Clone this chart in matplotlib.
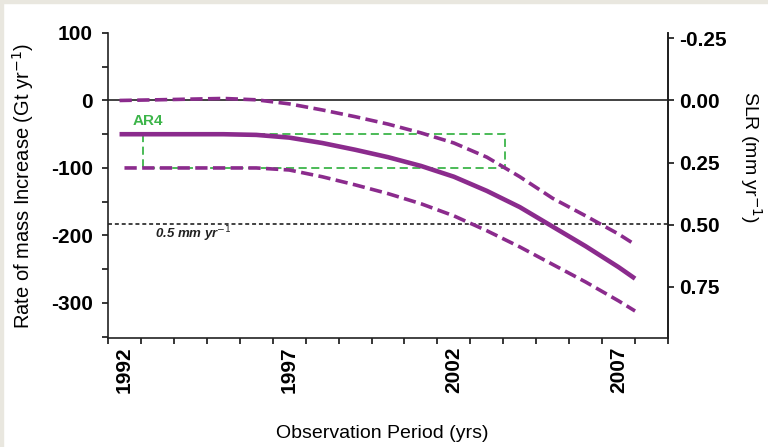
import matplotlib
matplotlib.use('Agg')
import matplotlib.pyplot as plt
from matplotlib.patches import Rectangle
from matplotlib.ticker import FixedLocator, FormatStrFormatter
import numpy as np

plt.rcParams['font.family'] = ['Liberation Sans', 'DejaVu Sans']
plt.rcParams['axes.unicode_minus'] = False

# --- data (Gt/yr) ---
mid_years = [1991.85, 1993, 1994, 1995, 1996, 1997, 1998, 1999, 2000, 2001, 2002,
             2003, 2004, 2005, 2006, 2007, 2007.5]
mid_rate = [-50, -50, -50, -50, -51, -55, -63, -73, -84, -97, -113,
            -134, -158, -187, -216, -247, -264]

upper_years = [1991.85, 1993, 1994, 1995, 1996, 1997, 1998, 1999, 2000, 2001, 2002,
               2003, 2004, 2005, 2006, 2007, 2007.45]
upper_rate = [0, 1, 2, 3, 1, -5, -14, -24, -35, -48, -63,
              -84, -113, -145, -171, -198, -212]

lower_years = [1992.0, 1993, 1994, 1995, 1996, 1997, 1998, 1999, 2000, 2001, 2002,
               2003, 2004, 2005, 2006, 2007, 2007.5]
lower_rate = [-100, -100, -100, -100, -100, -103, -113, -125, -138, -153, -171,
              -193, -217, -243, -269, -297, -312]

ar4_box = (1992.55, 2003.55, -100, -50)   # x0, x1, y0, y1
slr_line = -183                            # 0.5 mm/yr
gt_per_mm = 368.0

year_labels = [1992, 1997, 2002, 2007]
left_ticks = [100, 0, -100, -200, -300]
right_ticks = [-0.25, 0.0, 0.25, 0.5, 0.75]

purple = '#8B2B8D'
green = '#3DB54A'

fig = plt.figure(figsize=(7.68, 4.47), dpi=100)
fig.patch.set_facecolor('white')
# light beige strips at the top and left edge
fig.patches.append(Rectangle((0, 1 - 3 / 447), 1, 3 / 447, transform=fig.transFigure,
                             color='#E9E7DF', zorder=0))
fig.patches.append(Rectangle((0, 0), 3 / 768, 1, transform=fig.transFigure,
                             color='#E9E7DF', zorder=0))

ax = fig.add_axes([108 / 768, 1 - 338 / 447, 560 / 768, 305 / 447])
ax.set_xlim(1991.5, 2008.5)
ax.set_ylim(-352, 100)

# reference lines
ax.axhline(0, color='#333333', lw=1.3, zorder=1)
ax.axhline(slr_line, color='#333333', lw=1.3, ls=(0, (2.2, 1.6)), zorder=1)

# AR4 box
x0, x1, y0, y1 = ar4_box
ax.plot([x0, x0, x1, x1, x0], [y1, y0, y0, y1, y1], color=green, lw=1.3,
        ls=(0, (4.5, 2.5)), zorder=2)

ax.plot(upper_years, upper_rate, color=purple, lw=2.6, ls=(0, (3.4, 1.5)), zorder=3)
ax.plot(lower_years, lower_rate, color=purple, lw=2.6, ls=(0, (3.4, 1.5)), zorder=3)
ax.plot(mid_years, mid_rate, color=purple, lw=3.3, solid_capstyle='butt',
        solid_joinstyle='round', zorder=3)

ax.text(1992.72, -30, 'AR4', color=green, fontsize=11, fontweight='bold',
        ha='center', va='center')
ax.text(1992.93, -198, r'0.5 mm yr$^{-1}$', fontsize=9.5, fontweight='bold',
        fontstyle='italic', ha='left', va='center', color='#222222')

# spines
ax.spines['top'].set_visible(False)
for s in ['left', 'right', 'bottom']:
    ax.spines[s].set_linewidth(1.2)
    ax.spines[s].set_color('#222222')

# x ticks: labels on whole years, small marks between
ax.set_xticks(year_labels)
ax.set_xticklabels([str(y) for y in year_labels], rotation=90, fontsize=15,
                   fontweight='bold')
ax.xaxis.set_minor_locator(FixedLocator(np.arange(1991.5, 2008.6, 1.0)))
ax.tick_params(axis='x', which='major', length=0, pad=6)
ax.tick_params(axis='x', which='minor', length=4, width=1.1, direction='out')

# left y ticks
ax.set_yticks(left_ticks)
ax.set_yticklabels([str(v) for v in left_ticks], fontsize=15, fontweight='bold')
ax.yaxis.set_minor_locator(FixedLocator([50, -50, -150, -250, -350]))
ax.tick_params(axis='y', which='both', length=4, width=1.1, pad=7)

ax.set_xlabel('Observation Period (yrs)', fontsize=14)
ax.xaxis.set_label_coords(0.49, -0.285)
ax.set_ylabel(r'Rate of mass Increase (Gt yr$^{-1}$)', fontsize=14.5)
ax.yaxis.set_label_coords(-0.128, 0.5)

# right axis: sea level equivalent
sec = ax.secondary_yaxis('right', functions=(lambda g: -g / gt_per_mm,
                                              lambda s: -s * gt_per_mm))
sec.set_yticks(right_ticks)
sec.yaxis.set_major_formatter(FormatStrFormatter('%.2f'))
for lab in sec.get_yticklabels():
    lab.set_fontweight('bold')
sec.tick_params(axis='y', length=4, width=1.1, pad=4, labelsize=15)
sec.spines['right'].set_linewidth(1.2)
sec.set_ylabel(r'SLR (mm yr$^{-1}$)', fontsize=14, rotation=270, va='bottom')
sec.yaxis.set_label_coords(1.125, 0.593, transform=ax.transAxes)

fig.savefig('out.png', dpi=100, facecolor=fig.get_facecolor())
